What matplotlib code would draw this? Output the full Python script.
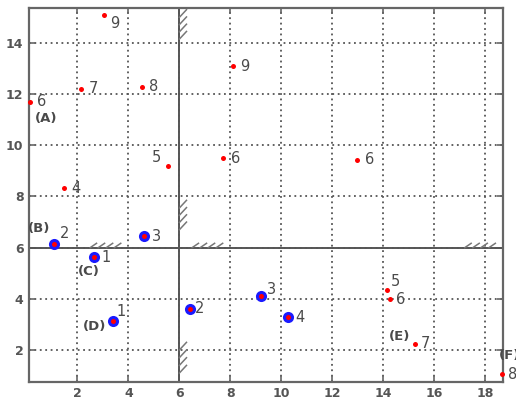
import matplotlib
matplotlib.use("Agg")
import matplotlib.pyplot as plt
import numpy as np

# ---- data ----
# plain red points
dot_x = [3.06, 8.09, 2.15, 4.52, 0.12, 5.55, 7.72, 1.47, 12.99, 14.15, 14.25, 15.23, 18.65]
dot_y = [15.08, 13.09, 12.21, 12.28, 11.70, 9.19, 9.49, 8.32, 9.44, 4.35, 3.99, 2.25, 1.06]
dot_lab = ["9", "9", "7", "8", "6", "5", "6", "4", "6", "5", "6", "7", "8"]
# label offsets in pixels (dx, dy) relative to the point
dot_off = [(10, -8), (12, 0), (12, 0), (12, 0), (12, 0), (-11, 9), (12, 0), (12, 0),
           (12, 0), (8, 8), (11, 0), (11, 0), (11, 0)]

# ringed (blue) points
ring_x = [1.09, 4.62, 2.65, 3.41, 6.42, 9.20, 10.25]
ring_y = [6.16, 6.45, 5.63, 3.15, 3.62, 4.13, 3.29]
ring_lab = ["2", "3", "1", "1", "2", "3", "4"]
ring_off = [(10, 10), (12, 0), (12, 0), (8, 9), (10, 0), (11, 6), (12, 0)]

# group letters
grp_lab = ["(A)", "(B)", "(C)", "(D)", "(E)", "(F)"]
grp_x = [0.76, 0.51, 2.43, 2.69, 14.65, 18.97]
grp_y = [11.06, 6.74, 5.05, 2.92, 2.53, 1.80]

# dividing lines
div_x = 6
div_y = 6

# hatch segments: (start, end)
hatch_v = [(14.15, 15.3), (6.7, 7.85), (1.1, 2.3)]       # along x = 6
hatch_h = [(2.5, 3.7), (6.5, 7.7), (17.2, 18.4)]         # along y = 6

xticks = [2, 4, 6, 8, 10, 12, 14, 16, 18]
yticks = [2, 4, 6, 8, 10, 12, 14]

# ---- figure ----
fig = plt.figure(figsize=(5.16, 4.01), dpi=100)
ax = fig.add_axes([0.0562, 0.048, 0.9186, 0.931])
ax.set_xlim(0.1, 18.7)
ax.set_ylim(0.76, 15.35)

ax.set_xticks(xticks)
ax.set_yticks(yticks)
ax.grid(True, linestyle=(0, (1, 2)), color="#555555", linewidth=1.3)
ax.set_axisbelow(True)
ax.tick_params(direction="in", top=True, right=True, length=4, width=1.2,
               color="#666666", labelsize=9, labelcolor="#555555", pad=4)
for lbl in ax.get_xticklabels() + ax.get_yticklabels():
    lbl.set_fontweight("bold")
for s in ax.spines.values():
    s.set_color("#666666")
    s.set_linewidth(1.6)

# dividing lines
ax.axvline(div_x, color="#555555", linewidth=1.4, zorder=2)
ax.axhline(div_y, color="#555555", linewidth=1.4, zorder=2)

# hatches
hc = "#777777"
for (a, b) in hatch_v:
    for yy in np.linspace(a, b - 0.3, 4):
        ax.plot([div_x, div_x + 0.28], [yy, yy + 0.3], color=hc, linewidth=1.1, zorder=2)
for (a, b) in hatch_h:
    for xx in np.linspace(a, b - 0.25, 4):
        ax.plot([xx, xx + 0.25], [div_y, div_y + 0.17], color=hc, linewidth=1.1, zorder=2)

tc = "#4a4a4a"
# plain points
ax.plot(dot_x, dot_y, "o", color="red", markersize=3.6, markeredgewidth=0, zorder=4, clip_on=False)
for x, y, t, (dx, dy) in zip(dot_x, dot_y, dot_lab, dot_off):
    ax.annotate(t, (x, y), xytext=(dx, dy), textcoords="offset pixels",
                ha="center", va="center", fontsize=10.5, color=tc, annotation_clip=False)

# ringed points
ax.plot(ring_x, ring_y, "o", color="#1a1aff", markersize=8, markeredgewidth=0, zorder=4)
ax.plot(ring_x, ring_y, "o", color="red", markersize=3.6, markeredgewidth=0, zorder=5)
for x, y, t, (dx, dy) in zip(ring_x, ring_y, ring_lab, ring_off):
    ax.annotate(t, (x, y), xytext=(dx, dy), textcoords="offset pixels",
                ha="center", va="center", fontsize=10.5, color=tc)

for x, y, t in zip(grp_x, grp_y, grp_lab):
    ax.text(x, y, t, ha="center", va="center", fontsize=9.5, color=tc,
            fontweight="bold", clip_on=False)

fig.savefig("out.png", dpi=100)
